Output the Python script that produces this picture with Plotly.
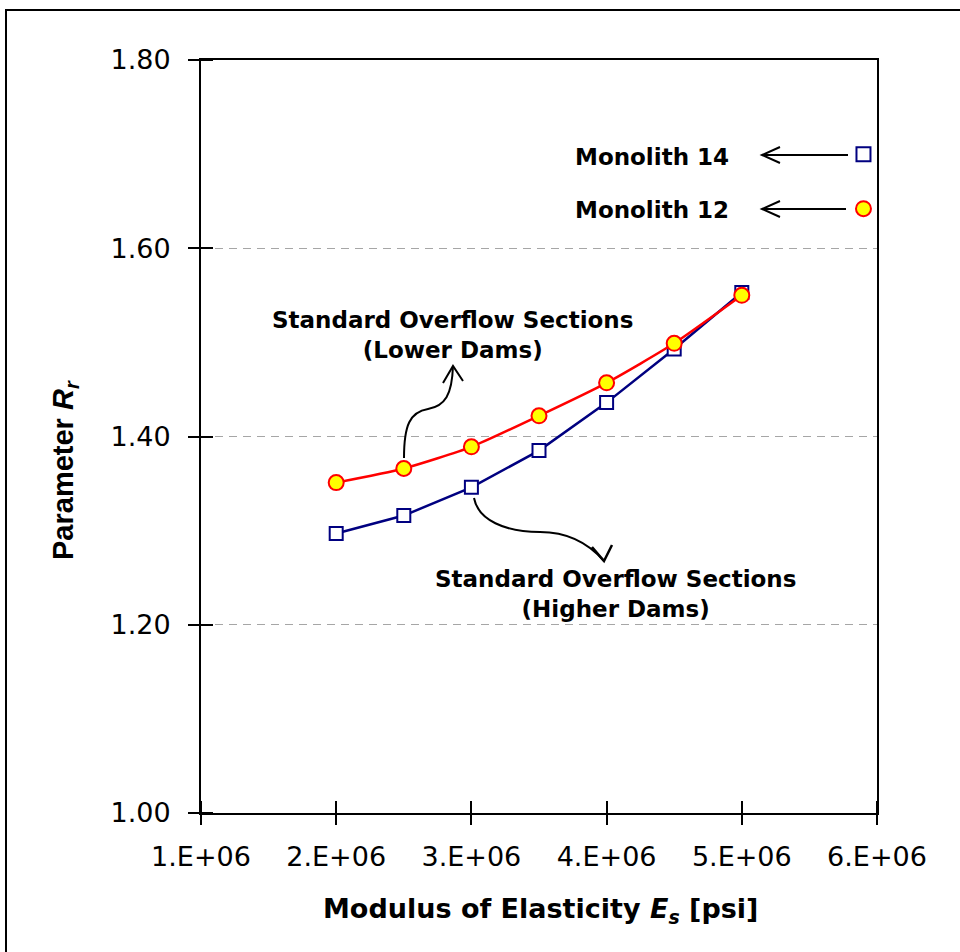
import plotly.graph_objects as go

# Modulus of elasticity values [psi]
es_values = [2.0e6, 2.5e6, 3.0e6, 3.5e6, 4.0e6, 4.5e6, 5.0e6]
# Parameter R_r for standard overflow sections
rr_higher_dams = [1.297, 1.316, 1.346, 1.385, 1.436, 1.493, 1.553]
rr_lower_dams = [1.351, 1.366, 1.389, 1.422, 1.457, 1.499, 1.550]
# Individual monoliths
monolith_es = [5.9e6]
rr_monolith_14 = [1.700]
rr_monolith_12 = [1.642]

x_tickvals = [1e6, 2e6, 3e6, 4e6, 5e6, 6e6]
x_ticktext = ["1.E+06", "2.E+06", "3.E+06", "4.E+06", "5.E+06", "6.E+06"]
y_tickvals = [1.0, 1.2, 1.4, 1.6, 1.8]
y_ticktext = ["1.00", "1.20", "1.40", "1.60", "1.80"]

W, H = 960, 952
L, R, T, B = 201, 83, 60, 139
PW, PH = W - L - R, H - T - B
X0, X1 = 1e6, 6e6
Y0, Y1 = 1.0, 1.8


def xd(px):
    return X0 + (px - L) / PW * (X1 - X0)


def yd(py):
    return Y1 - (py - T) / PH * (Y1 - Y0)


def path(points, cmds):
    out = []
    i = 0
    for c in cmds:
        n = {"M": 1, "L": 1, "C": 3}[c]
        pts = " ".join(f"{xd(p[0])},{yd(p[1])}" for p in points[i:i + n])
        out.append(f"{c}{pts}")
        i += n
    return " ".join(out)


fig = go.Figure()

fig.add_trace(go.Scatter(
    x=es_values, y=rr_higher_dams, mode="lines+markers",
    line=dict(color="#000080", width=2.5),
    marker=dict(symbol="square", size=13, color="white",
                line=dict(color="#000080", width=2)),
    showlegend=False, cliponaxis=False))
fig.add_trace(go.Scatter(
    x=es_values, y=rr_lower_dams, mode="lines+markers",
    line=dict(color="#ff0000", width=2.5, shape="spline", smoothing=0.6),
    marker=dict(symbol="circle", size=15, color="#ffff00",
                line=dict(color="#ff0000", width=2)),
    showlegend=False, cliponaxis=False))
fig.add_trace(go.Scatter(
    x=monolith_es, y=rr_monolith_14, mode="markers",
    marker=dict(symbol="square", size=14, color="white",
                line=dict(color="#000080", width=2)),
    showlegend=False, cliponaxis=False))
fig.add_trace(go.Scatter(
    x=monolith_es, y=rr_monolith_12, mode="markers",
    marker=dict(symbol="circle", size=15, color="#ffff00",
                line=dict(color="#ff0000", width=2)),
    showlegend=False, cliponaxis=False))

tick_font = dict(family="DejaVu Sans", size=27, color="black")

# inner halves of the crossing tick marks, nudged off the major positions
x_inner = [v + 2.0 for v in x_tickvals]
y_inner = [v + 1e-6 for v in y_tickvals]

fig.update_layout(
    width=W, height=H,
    margin=dict(l=L, r=R, t=T, b=B),
    paper_bgcolor="white", plot_bgcolor="white",
    xaxis=dict(range=[X0, X1], tickvals=x_tickvals, ticktext=x_ticktext,
               ticks="outside", ticklen=10, tickwidth=1.5, tickcolor="black",
               minor=dict(tickmode="array", tickvals=x_inner, ticks="inside",
                          ticklen=12, tickwidth=1.5, tickcolor="black",
                          showgrid=False),
               showline=True, linecolor="black", linewidth=2, mirror=True,
               showgrid=False, zeroline=False, tickfont=tick_font,
               ticklabelstandoff=9),
    yaxis=dict(range=[Y0, Y1], tickvals=y_tickvals, ticktext=y_ticktext,
               ticks="outside", ticklen=11, tickwidth=1.5, tickcolor="black",
               minor=dict(tickmode="array", tickvals=y_inner, ticks="inside",
                          ticklen=12, tickwidth=1.5, tickcolor="black",
                          showgrid=False),
               showline=True, linecolor="black", linewidth=2, mirror=True,
               showgrid=True, gridcolor="#a6a6a6", gridwidth=1,
               griddash="8px,6px", zeroline=False, tickfont=tick_font,
               ticklabelstandoff=12),
)

ann_font = dict(family="DejaVu Sans", size=23, color="black", weight="bold")


def label(text, px, py, **kw):
    fig.add_annotation(x=xd(px), y=yd(py), xref="x", yref="y", text=text,
                       showarrow=False, xanchor="center", yanchor="middle",
                       font=ann_font, **kw)


label("Standard Overflow Sections<br>(Lower Dams)", 452, 335)
label("Standard Overflow Sections<br>(Higher Dams)", 615, 594)
label("Monolith 14", 652, 157)
label("Monolith 12", 652, 210)

# axis titles
fig.add_annotation(x=(540 - L) / PW, y=(H - B - 911) / PH, xref="paper", yref="paper",
                   text="Modulus of Elasticity <i>E<sub>s</sub></i> [psi]",
                   showarrow=False, xanchor="center", yanchor="middle",
                   font=dict(family="DejaVu Sans", size=27, color="black", weight="bold"))
fig.add_annotation(x=(65 - L) / PW, y=(H - B - 470) / PH, xref="paper", yref="paper",
                   text="Parameter <i>R<sub>r</sub></i>", textangle=-90,
                   showarrow=False, xanchor="center", yanchor="middle",
                   font=dict(family="Liberation Sans", size=29, color="black", weight="bold"))

arrow_line = dict(color="black", width=2)

# curved leader to the lower-dams curve
fig.add_shape(type="path", xref="x", yref="y", line=arrow_line,
              path=path([(404, 458), (404, 425), (410, 412), (428, 409),
                         (445, 406), (452, 395), (453, 366)], "MCC"))
fig.add_shape(type="path", xref="x", yref="y", line=arrow_line,
              path=path([(443, 383), (453, 366), (463, 381)], "MLL"))
# curved leader to the higher-dams curve
fig.add_shape(type="path", xref="x", yref="y", line=arrow_line,
              path=path([(474, 498), (478, 520), (505, 532), (540, 532),
                         (570, 532), (590, 545), (604, 561)], "MCC"))
fig.add_shape(type="path", xref="x", yref="y", line=dict(color="black", width=2.5),
              path=path([(592, 547), (604, 561), (612, 545)], "MLL"))
# straight leaders from the monolith markers
for py, tail in ((155, 848), (209, 846)):
    fig.add_shape(type="path", xref="x", yref="y", line=arrow_line,
                  path=path([(tail, py), (762, py)], "ML"))
    fig.add_shape(type="path", xref="x", yref="y", line=arrow_line,
                  path=path([(780, py - 8), (762, py), (780, py + 8)], "MLL"))

# outer chart frame
fig.add_shape(type="rect", xref="paper", yref="paper",
              x0=(6 - L) / PW, x1=(1000 - L) / PW,
              y0=(H - B - 1000) / PH, y1=(H - B - 10) / PH,
              line=dict(color="black", width=2), fillcolor="rgba(0,0,0,0)",
              layer="below")

fig.write_html("out.html")
